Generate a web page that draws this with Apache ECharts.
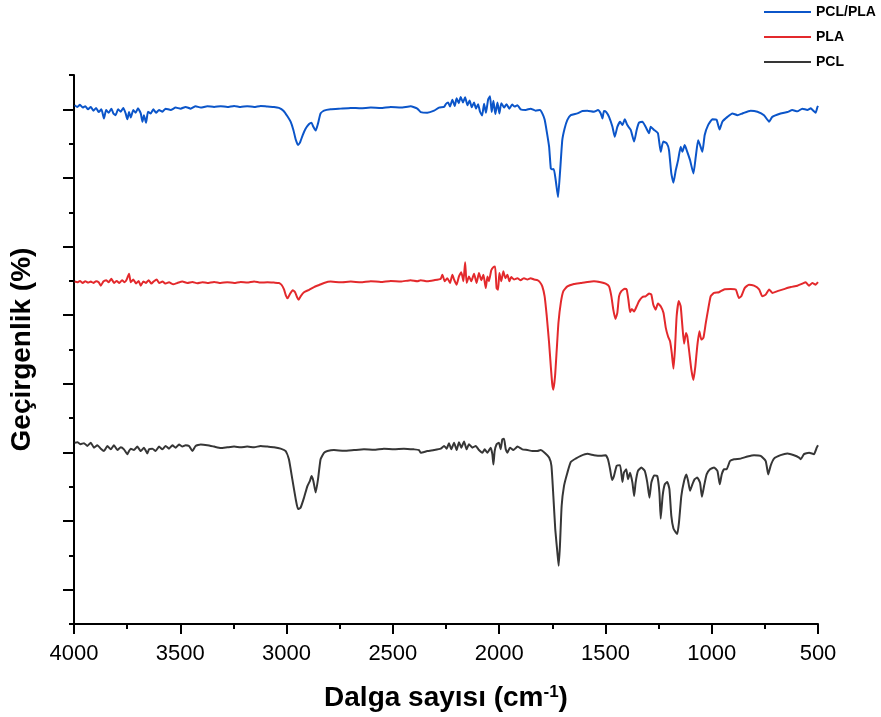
<!DOCTYPE html>
<html>
<head>
<meta charset="utf-8">
<script src="https://cdn.jsdelivr.net/npm/echarts@6/dist/echarts.min.js"></script>
<style>
  html, body { margin: 0; padding: 0; background: #ffffff; }
  #chart { width: 881px; height: 717px; }
</style>
</head>
<body>
<div id="chart"></div>
<script>
// FTIR spectra: transmittance (stacked, arbitrary offset) vs wavenumber (cm-1)
const FONT = '"Liberation Sans", Arial, Helvetica, sans-serif';

const seriesNames = ['PCL/PLA', 'PLA', 'PCL'];
const seriesColors = ['#0b55c9', '#e3292c', '#363636'];

// wavenumber tick labels along the x axis (high to low)
const xTickLabels = [4000, 3500, 3000, 2500, 2000, 1500, 1000, 500];

// PCL/PLA blend
const pclPlaWave = [3997,3984,3972,3959,3947,3934,3921,3909,3896,3884,3871,3859,3849,3837,3824,3815,3804,3793,3780,3768,3757,3749,3741,3733,3721,3710,3699,3686,3678,3671,3661,3652,3639,3627,3614,3600,3584,3569,3545,3522,3498,3475,3451,3428,3404,3373,3341,3310,3279,3247,3216,3185,3153,3122,3090,3059,3036,3015,2996,2981,2968,2957,2946,2937,2924,2910,2894,2883,2874,2863,2852,2840,2824,2793,2746,2698,2651,2604,2557,2510,2463,2416,2385,2369,
  2338,2306,2283,2259,2251,2240,2231,2220,2209,2200,2190,2181,2170,2160,2149,2139,2129,2118,2109,2099,2090,2080,2071,2062,2052,2043,2035,2027,2018,2008,1999,1990,1977,1965,1952,1939,1927,1914,1899,1875,1852,1828,1808,1797,1786,1776,1765,1757,1750,1743,1734,1723,1714,1703,1692,1679,1663,1632,1608,1585,1554,1535,1522,1514,1507,1496,1483,1467,1456,1444,1431,1420,1409,1397,1381,1365,1353,1342,1326,1311,1295,1287,1271,1253,1240,1228,1212,1201,1190,1180,1169,1158,1146,1138,1127,1115,1102,1086,1075,1064,1055,1044,1033,1017,997,977,963,950,926,903,879,856,817,785,754,730,715,676,644,621,597,574,550,534,522,511,503,500];
const pclPlaT = [151.2,150.7,151.3,150.5,150.9,150.0,150.7,149.6,150.4,149.2,150.0,147.3,149.8,149.0,150.2,148.8,148.3,150.0,149.3,150.4,148.8,147.1,149.2,147.6,149.8,149.0,150.3,148.8,146.4,148.3,146.1,149.3,148.8,150.0,149.0,149.8,149.3,150.2,149.8,150.5,150.2,150.7,150.2,150.9,150.5,150.9,150.7,150.9,150.7,151.0,150.7,150.9,150.7,151.0,150.8,150.7,150.4,149.6,148.0,146.4,144.0,141.2,139.6,140.3,142.5,144.4,145.7,146.1,144.9,143.8,145.9,148.8,149.6,150.0,150.2,150.4,150.3,150.5,150.4,150.7,150.5,150.9,150.2,149.2,
  149.0,149.6,150.5,150.7,151.5,152.0,150.8,152.8,151.0,153.2,151.8,153.6,152.0,153.5,151.2,152.6,150.6,152.0,150.2,151.5,149.3,148.2,151.6,149.0,152.8,153.8,149.2,152.5,148.6,152.0,148.8,151.8,150.5,151.5,150.2,151.4,150.8,151.2,150.0,149.8,150.2,149.6,149.8,148.8,147.0,143.5,139.1,132.8,132.5,132.6,129.4,124.4,131.3,141.0,144.4,146.9,148.3,148.8,149.5,149.6,149.3,149.8,148.8,147.3,149.5,149.2,147.8,144.9,142.0,144.9,146.4,145.4,147.1,145.4,144.0,140.6,144.0,146.1,146.4,144.9,143.0,144.9,144.0,143.0,137.6,140.6,140.1,138.1,131.3,128.6,132.3,135.2,139.1,137.6,139.6,137.6,135.2,131.3,136.2,141.0,139.6,137.6,142.5,145.4,147.1,146.9,144.1,146.4,147.8,148.8,148.3,148.8,149.6,149.3,148.3,146.4,147.8,148.8,149.2,149.8,149.4,150.2,149.8,150.3,149.6,149.0,150.6,151.0];

// PLA
const plaWave = [3997,3984,3972,3959,3947,3934,3921,3909,3896,3884,3874,3862,3849,3837,3824,3812,3799,3787,3774,3762,3752,3741,3733,3721,3708,3696,3686,3674,3661,3649,3636,3624,3611,3599,3584,3569,3553,3533,3514,3490,3467,3443,3420,3396,3373,3341,3310,3279,3247,3216,3185,3153,3122,3090,3059,3036,3023,3012,3003,2995,2984,2971,2960,2951,2943,2934,2918,2894,2871,2847,2824,2793,2746,2698,2651,2604,2557,2510,2463,2416,2385,
  2369,2338,2306,2275,2267,2256,2244,2231,2220,2212,2200,2189,2178,2168,2160,2153,2142,2131,2118,2106,2095,2084,2074,2063,2055,2048,2037,2027,2019,2012,2005,1999,1990,1980,1971,1961,1952,1943,1930,1914,1899,1883,1867,1852,1836,1820,1808,1797,1786,1776,1765,1757,1750,1745,1737,1729,1721,1710,1698,1679,1648,1616,1585,1554,1522,1499,1483,1472,1463,1453,1444,1436,1425,1409,1400,1392,1384,1376,1365,1353,1342,1326,1311,1295,1284,1275,1264,1253,1240,1227,1216,1205,1196,1188,1180,1173,1165,1155,1146,1138,1130,1121,1115,1107,1096,1086,1077,1068,1058,1049,1039,1028,1017,1005,989,966,942,911,887,872,861,845,825,801,777,762,746,730,715,691,660,628,597,574,558,542,527,511,500];
const plaT = [99.8,99.6,100.0,99.4,99.9,99.5,99.8,99.4,99.9,99.6,98.6,99.8,100.2,99.6,100.6,99.4,100.0,99.4,100.2,99.6,100.4,102.1,99.6,100.4,99.2,100.0,98.6,99.8,99.4,100.2,99.2,99.9,100.4,99.4,99.8,99.2,99.6,99.0,99.4,99.8,99.4,99.7,99.3,99.6,99.4,99.7,99.4,99.6,99.4,99.7,99.5,99.8,99.5,99.6,99.5,99.4,98.8,97.5,95.7,94.9,96.2,97.3,96.7,95.3,94.5,95.5,96.7,97.4,98.2,98.8,99.4,99.8,99.6,99.8,99.6,99.9,99.7,100.0,99.8,100.2,99.9,
  100.2,99.9,100.2,100.6,101.8,99.9,100.8,99.4,101.8,100.4,98.9,101.3,102.5,99.9,105.4,99.4,101.3,99.9,102.1,99.4,102.3,100.2,101.8,97.9,101.3,99.9,103.1,104.0,104.2,97.9,97.4,102.3,99.9,102.8,100.8,101.8,99.9,101.1,100.4,100.8,100.2,100.8,100.4,100.8,100.4,100.2,99.6,98.4,95.5,89.7,81.9,75.1,69.8,68.3,72.2,80.0,87.8,93.6,97.0,98.4,99.1,99.4,99.7,99.9,99.6,99.2,98.4,95.5,91.6,88.9,90.7,95.5,97.0,97.7,97.5,94.5,90.9,91.8,91.1,92.6,94.1,95.3,95.5,96.3,96.0,93.1,91.6,93.4,92.6,90.7,86.3,83.7,82.4,79.0,74.4,80.0,89.7,94.1,92.6,86.8,81.7,84.8,83.9,80.0,74.2,71.1,75.1,81.0,85.3,82.9,83.4,87.7,91.6,95.5,96.5,96.7,97.5,97.6,97.5,95.0,95.5,97.9,98.9,98.6,97.5,95.5,96.0,97.5,96.5,97.0,97.6,98.2,98.6,99.2,99.6,98.6,99.4,98.9,99.6];

// PCL
const pclWave = [3997,3984,3969,3953,3937,3921,3906,3890,3874,3859,3843,3827,3812,3796,3780,3765,3749,3741,3733,3718,3702,3686,3671,3655,3647,3631,3616,3600,3584,3569,3553,3537,3522,3506,3490,3475,3459,3443,3428,3404,3373,3341,3310,3279,3247,3216,3185,3153,3122,3090,3059,3028,3004,2989,2973,2957,2946,2934,2918,2902,2890,2883,2874,2863,2852,2840,2824,2808,2777,2730,2683,2636,2589,2542,2495,2448,2401,2377,
  2369,2338,2306,2275,2259,2247,2236,2225,2212,2200,2189,2178,2165,2153,2142,2126,2110,2095,2079,2068,2055,2040,2032,2027,2021,2012,2001,1993,1985,1977,1969,1961,1949,1933,1914,1891,1867,1844,1820,1805,1786,1765,1754,1745,1736,1726,1720,1714,1706,1695,1679,1663,1640,1616,1585,1554,1522,1499,1488,1478,1469,1460,1447,1431,1420,1413,1402,1394,1384,1373,1365,1358,1347,1331,1315,1303,1293,1284,1271,1256,1246,1240,1231,1221,1209,1199,1190,1180,1169,1162,1154,1143,1130,1119,1111,1102,1091,1080,1068,1055,1046,1036,1024,1008,989,973,962,953,942,930,914,895,864,832,801,770,746,734,723,707,676,644,613,589,581,566,542,519,506,500];
const pclT = [52.85,53.0,52.4,52.7,51.9,52.85,51.4,52.1,51.1,50.4,51.9,50.9,52.1,50.7,51.5,50.9,49.5,50.4,51.1,50.7,51.7,50.4,51.4,49.7,50.9,51.1,50.4,51.7,50.9,51.9,51.1,52.1,51.4,52.3,51.7,52.1,51.9,50.4,51.9,52.3,52.1,51.7,51.3,51.5,51.7,51.5,51.7,51.5,51.9,51.7,51.5,51.1,50.4,48.0,42.2,36.4,33.5,33.9,36.8,40.2,41.7,43.1,41.7,38.3,42.2,48.0,49.9,50.4,50.7,50.5,50.7,50.9,50.8,51.1,50.9,51.1,50.9,50.7,
  49.9,50.4,50.7,51.1,51.9,51.1,52.7,50.9,52.85,50.7,53.0,51.4,53.2,50.9,52.4,51.4,51.9,50.7,49.9,50.9,49.9,51.4,49.5,46.5,50.4,52.4,52.85,50.9,53.8,54.0,50.9,49.9,51.4,50.7,51.7,50.9,50.7,50.4,50.4,50.7,49.9,48.5,46.1,37.3,27.6,20.8,16.96,22.8,34.4,40.2,44.1,47.2,48.2,49.0,49.6,49.2,49.0,49.2,48.0,45.1,42.0,43.1,46.1,46.3,41.4,44.1,45.1,42.2,44.1,41.2,37.3,41.2,44.6,45.6,44.6,41.2,36.8,41.2,43.3,43.1,38.3,30.7,37.3,40.7,41.4,39.3,31.5,27.8,26.7,26.2,29.6,37.3,41.7,43.6,41.7,38.8,40.7,42.2,42.7,41.2,37.1,40.2,43.6,45.1,45.6,44.6,40.7,43.6,45.1,45.1,47.5,48.0,48.2,48.8,49.2,49.0,47.5,43.6,46.1,48.2,49.2,49.7,49.2,48.5,48.0,49.5,49.9,49.5,51.4,52.1];

const waves = [pclPlaWave, plaWave, pclWave];
const trans = [pclPlaT, plaT, pclT];

function pairs(xs, ys) {
  const out = [];
  for (let i = 0; i < xs.length; i++) out.push([xs[i], ys[i]]);
  return out;
}

const chart = echarts.init(document.getElementById('chart'), null, { renderer: 'canvas' });

const axisLineStyle = { color: '#000', width: 2 };

chart.setOption({
  animation: false,
  backgroundColor: '#ffffff',
  textStyle: { fontFamily: FONT },
  grid: { left: 73, right: 63, top: 75, bottom: 92, containLabel: false },
  legend: {
    orient: 'vertical',
    left: 764,
    top: 5,
    padding: 0,
    itemWidth: 47,
    itemHeight: 14,
    itemGap: 11,
    icon: 'path://M0,0L47,0L47,2L0,2Z',
    symbolKeepAspect: true,
    data: seriesNames,
    textStyle: { fontFamily: FONT, fontSize: 14, fontWeight: 'bold', color: '#000' }
  },
  xAxis: {
    type: 'value',
    inverse: true,
    min: xTickLabels[xTickLabels.length - 1],
    max: xTickLabels[0],
    interval: 500,
    name: '{a|Dalga sayısı (cm}{s|-1}{a|)}',
    nameLocation: 'middle',
    nameGap: 60,
    nameTextStyle: {
      rich: {
        a: { fontFamily: FONT, fontSize: 28, fontWeight: 'bold', color: '#000' },
        s: { fontFamily: FONT, fontSize: 17, fontWeight: 'bold', color: '#000', verticalAlign: 'top' }
      }
    },
    axisLine: { show: true, onZero: false, lineStyle: axisLineStyle },
    axisTick: { show: true, length: 10, lineStyle: { color: '#000', width: 2 } },
    minorTick: { show: true, splitNumber: 2, length: 5, lineStyle: { color: '#000', width: 2 } },
    axisLabel: {
      fontFamily: FONT, fontSize: 22, color: '#000', margin: 19,
      formatter: function (v) { return String(v); }
    },
    splitLine: { show: false }
  },
  yAxis: {
    type: 'value',
    min: 0,
    max: 160,
    interval: 20,
    name: 'Geçirgenlik (%)',
    nameLocation: 'middle',
    nameGap: 38,
    nameTextStyle: { fontFamily: FONT, fontSize: 28, fontWeight: 'bold', color: '#000' },
    axisLine: { show: true, onZero: false, lineStyle: axisLineStyle },
    axisTick: { show: true, length: 5, lineStyle: { color: '#000', width: 2 } },
    minorTick: { show: true, splitNumber: 2, length: 11, lineStyle: { color: '#000', width: 2 } },
    axisLabel: { show: false },
    splitLine: { show: false }
  },
  series: seriesNames.map((name, i) => ({
    name: name,
    type: 'line',
    symbol: 'none',
    showSymbol: false,
    smooth: 0.15,
    color: seriesColors[i],
    itemStyle: { color: seriesColors[i] },
    lineStyle: { width: 2, color: seriesColors[i] },
    data: pairs(waves[i], trans[i])
  }))
});
</script>
</body>
</html>
